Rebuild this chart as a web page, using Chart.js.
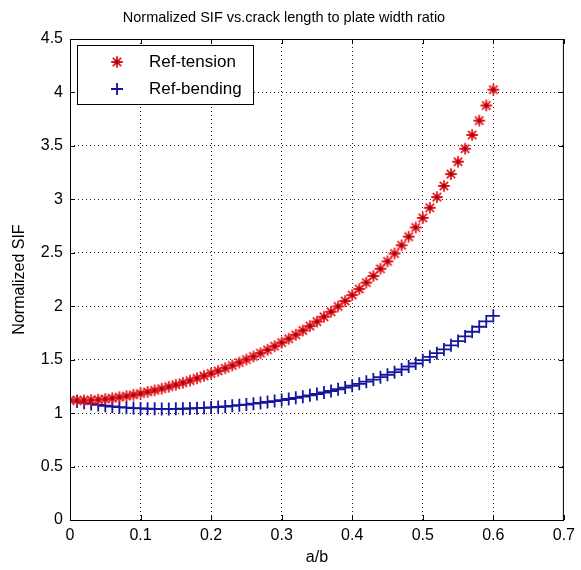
<!DOCTYPE html>
<html>
<head>
<meta charset="utf-8">
<title>Normalized SIF</title>
<script src="https://cdn.jsdelivr.net/npm/chart.js@4.4.1/dist/chart.umd.min.js"></script>
<style>
  html, body { margin: 0; padding: 0; background: #fff; }
</style>
</head>
<body>
<canvas id="myChart" width="581" height="570"></canvas>
<script>
// a/b sample points
const ratio = [
    0.00, 0.01, 0.02, 0.03, 0.04, 0.05, 0.06, 0.07, 0.08, 0.09,
    0.10, 0.11, 0.12, 0.13, 0.14, 0.15, 0.16, 0.17, 0.18, 0.19,
    0.20, 0.21, 0.22, 0.23, 0.24, 0.25, 0.26, 0.27, 0.28, 0.29,
    0.30, 0.31, 0.32, 0.33, 0.34, 0.35, 0.36, 0.37, 0.38, 0.39,
    0.40, 0.41, 0.42, 0.43, 0.44, 0.45, 0.46, 0.47, 0.48, 0.49,
    0.50, 0.51, 0.52, 0.53, 0.54, 0.55, 0.56, 0.57, 0.58, 0.59,
    0.60
];

const refTension = [
    1.120, 1.119, 1.119, 1.122, 1.126, 1.132, 1.140, 1.149, 1.159, 1.171,
    1.184, 1.198, 1.213, 1.229, 1.247, 1.265, 1.284, 1.304, 1.326, 1.348,
    1.371, 1.395, 1.420, 1.446, 1.473, 1.501, 1.530, 1.561, 1.592, 1.626,
    1.660, 1.696, 1.733, 1.773, 1.814, 1.856, 1.901, 1.948, 1.998, 2.049,
    2.104, 2.161, 2.221, 2.283, 2.350, 2.419, 2.493, 2.570, 2.651, 2.737,
    2.826, 2.921, 3.021, 3.125, 3.236, 3.352, 3.473, 3.602, 3.736, 3.878,
    4.026
];

const refBending = [
    1.122, 1.109, 1.097, 1.086, 1.077, 1.069, 1.062, 1.056, 1.051, 1.047,
    1.044, 1.041, 1.040, 1.039, 1.039, 1.040, 1.041, 1.043, 1.046, 1.049,
    1.053, 1.057, 1.062, 1.068, 1.074, 1.080, 1.088, 1.095, 1.104, 1.113,
    1.122, 1.132, 1.143, 1.154, 1.166, 1.179, 1.193, 1.207, 1.223, 1.239,
    1.256, 1.274, 1.294, 1.314, 1.336, 1.359, 1.383, 1.408, 1.436, 1.464,
    1.495, 1.527, 1.561, 1.596, 1.634, 1.674, 1.717, 1.761, 1.808, 1.858,
    1.910
];

const FONT = 'Liberation Sans, Arial, sans-serif';
const RED = '#e8141c';
const BLUE = '#14149c';

// '*' marker with the darker centre where the strokes cross
function starMarker() {
    const c = document.createElement('canvas');
    c.width = c.height = 14;
    const g = c.getContext('2d');
    const m = 7, r = 5.8, d = r * 0.72;
    g.strokeStyle = RED;
    g.lineWidth = 1.8;
    g.beginPath();
    g.moveTo(m - r, m); g.lineTo(m + r, m);
    g.moveTo(m, m - r); g.lineTo(m, m + r);
    g.moveTo(m - d, m - d); g.lineTo(m + d, m + d);
    g.moveTo(m - d, m + d); g.lineTo(m + d, m - d);
    g.stroke();
    g.fillStyle = '#8e0a12';
    g.beginPath();
    g.arc(m, m, 1.9, 0, Math.PI * 2);
    g.fill();
    return c;
}

const starImg = starMarker();

// frame, inward ticks and legend box drawn on top
const axesBox = {
    id: 'axesBox',
    afterDraw(chart) {
        const { ctx, chartArea: a, scales } = chart;
        ctx.save();
        ctx.strokeStyle = '#000';
        ctx.lineWidth = 1;
        ctx.beginPath();
        scales.x.ticks.forEach(t => {
            const px = Math.round(scales.x.getPixelForValue(t.value)) + 0.5;
            ctx.moveTo(px, a.bottom); ctx.lineTo(px, a.bottom - 5);
            ctx.moveTo(px, a.top); ctx.lineTo(px, a.top + 5);
        });
        scales.y.ticks.forEach(t => {
            const py = Math.round(scales.y.getPixelForValue(t.value)) + 0.5;
            ctx.moveTo(a.left, py); ctx.lineTo(a.left + 5, py);
            ctx.moveTo(a.right, py); ctx.lineTo(a.right - 5, py);
        });
        ctx.stroke();
        ctx.strokeRect(a.left + 0.5, a.top + 0.5, a.right - a.left - 1, a.bottom - a.top);

        // legend
        const lx = 77.5, ly = 45.5, lw = 176, lh = 59;
        ctx.fillStyle = '#fff';
        ctx.fillRect(lx, ly, lw, lh);
        ctx.strokeRect(lx, ly, lw, lh);
        ctx.font = '17px ' + FONT;
        ctx.textBaseline = 'middle';
        ctx.textAlign = 'left';
        ctx.fillStyle = '#000';
        ctx.drawImage(starImg, 117 - 7, 62 - 7);
        ctx.fillText('Ref-tension', 149, 62);
        ctx.strokeStyle = BLUE;
        ctx.lineWidth = 1.8;
        ctx.beginPath();
        ctx.moveTo(111, 89); ctx.lineTo(123, 89);
        ctx.moveTo(117, 83); ctx.lineTo(117, 95);
        ctx.stroke();
        ctx.fillText('Ref-bending', 149, 89);
        ctx.restore();
    }
};

const fmt = v => String(+v.toFixed(2));

const config = {
    type: 'scatter',
    data: {
        datasets: [{
            label: 'Ref-tension',
            data: ratio.map((x, i) => ({ x, y: refTension[i] })),
            pointStyle: starImg,
            showLine: false
        }, {
            label: 'Ref-bending',
            data: ratio.map((x, i) => ({ x, y: refBending[i] })),
            pointStyle: 'cross',
            pointRadius: 6.5,
            pointBorderWidth: 1.8,
            pointBorderColor: BLUE,
            showLine: false
        }]
    },
    options: {
        responsive: false,
        animation: false,
        devicePixelRatio: 1,
        layout: { padding: { left: 0, right: 13, top: 0, bottom: 0 } },
        plugins: {
            legend: { display: false },
            tooltip: { enabled: false },
            title: {
                display: true,
                text: 'Normalized SIF vs.crack length to plate width ratio',
                color: '#000',
                font: { family: FONT, size: 14.5, weight: 'normal', lineHeight: 1.2 },
                padding: { top: 9, bottom: 12.6 }
            }
        },
        scales: {
            x: {
                type: 'linear',
                min: 0,
                max: 0.7,
                ticks: { stepSize: 0.1, padding: 6, color: '#000', font: { family: FONT, size: 16 }, callback: fmt, maxRotation: 0 },
                grid: { color: '#222', drawTicks: false },
                border: { display: false, dash: [1, 3] },
                title: { display: true, text: 'a/b', color: '#000', font: { family: FONT, size: 16 }, padding: { top: 0, bottom: 3 } },
                afterFit(scale) { scale.height = 50; }
            },
            y: {
                min: 0,
                max: 4.5,
                ticks: { stepSize: 0.5, padding: 7, color: '#000', font: { family: FONT, size: 16 }, callback: fmt },
                grid: { color: '#222', drawTicks: false },
                border: { display: false, dash: [1, 3] },
                title: { display: true, text: 'Normalized SIF', color: '#000', font: { family: FONT, size: 16 }, padding: { top: 10, bottom: 0 } },
                afterFit(scale) { scale.width = 70; }
            }
        }
    },
    plugins: [axesBox]
};

const myChart = new Chart(document.getElementById('myChart'), config);
</script>
</body>
</html>
